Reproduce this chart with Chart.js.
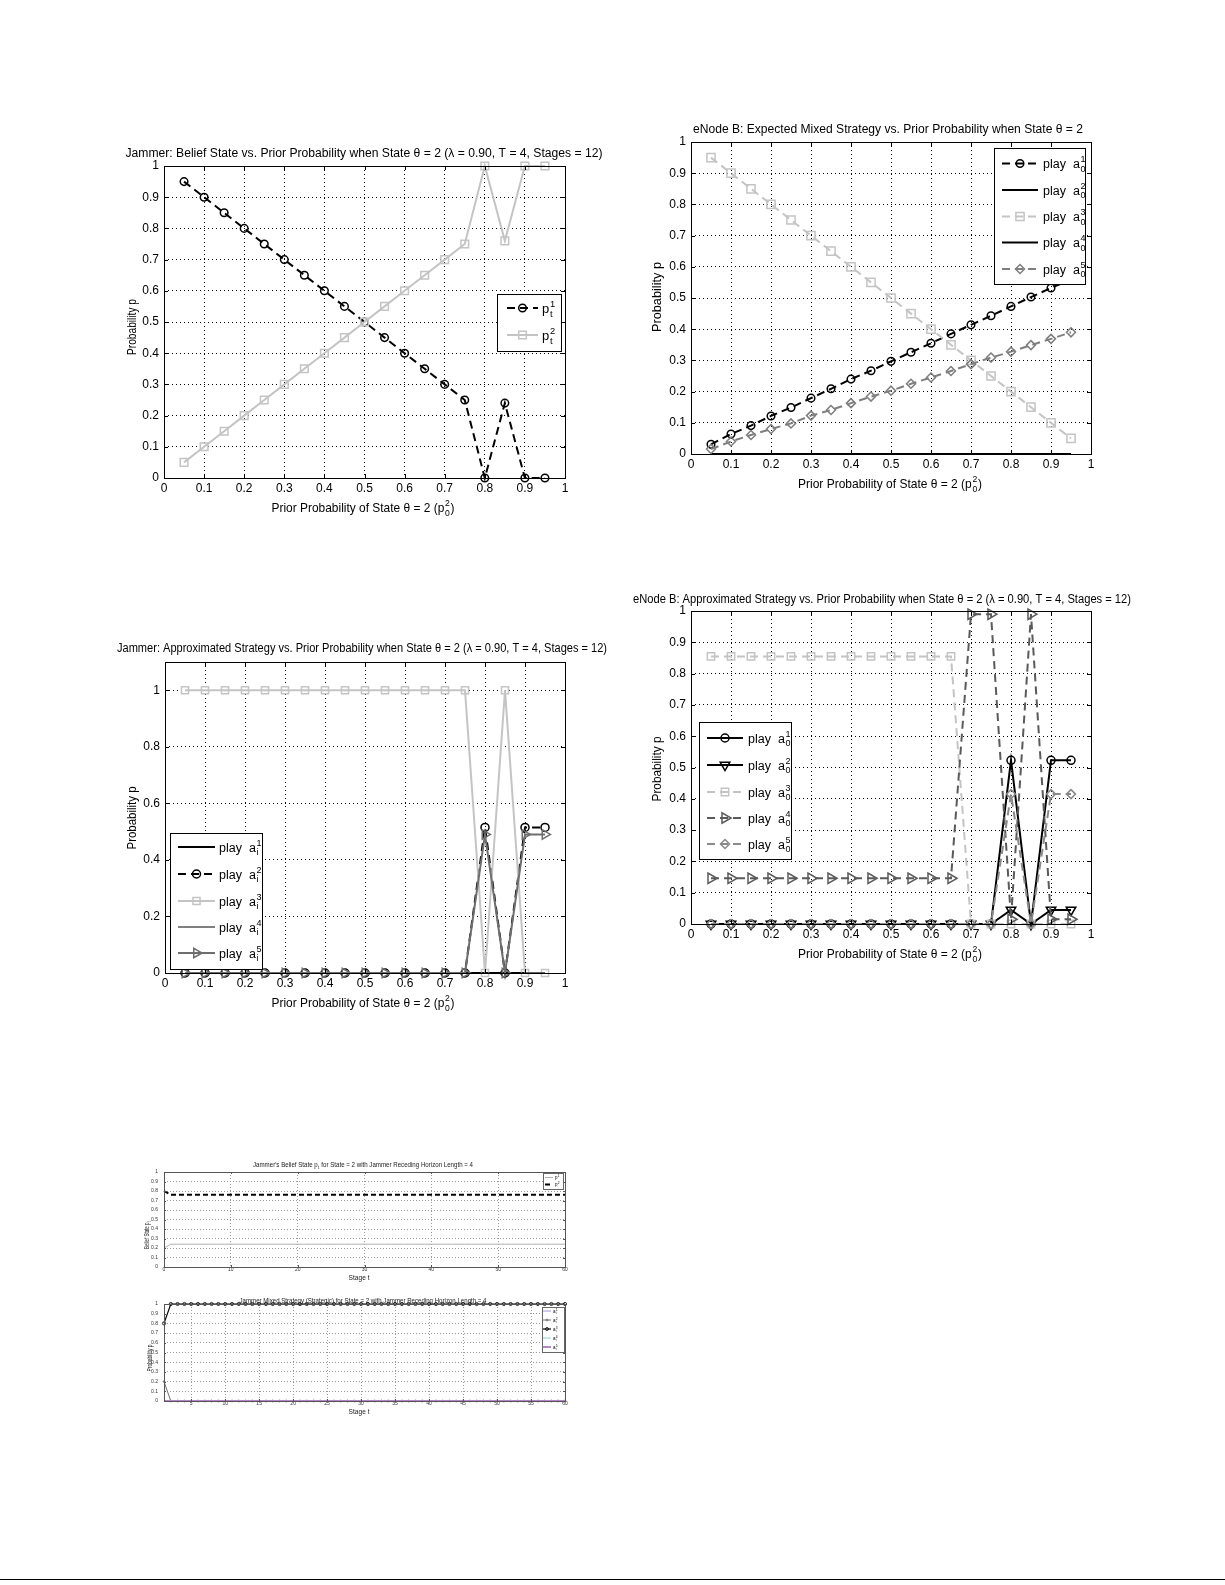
<!DOCTYPE html>
<html><head><meta charset="utf-8">
<script src="https://cdn.jsdelivr.net/npm/chart.js@4.4.0/dist/chart.umd.min.js"></script>
<style>
html,body{margin:0;padding:0;background:#fff;}
#page{position:relative;width:1225px;height:1585px;background:#fff;overflow:hidden;}
#page canvas{position:absolute;}
#rule{position:absolute;left:0;top:1579px;width:1225px;height:1px;background:#000;}
</style></head>
<body><div id="page"><div id="rule"></div></div>
<script>
// ---------------- DATA ----------------
const priorX = [0.05,0.1,0.15,0.2,0.25,0.3,0.35,0.4,0.45,0.5,0.55,0.6,0.65,0.7,0.75,0.8,0.85,0.9,0.95];
const priorTicks = [0,0.1,0.2,0.3,0.4,0.5,0.6,0.7,0.8,0.9,1];
const probTicks = [0,0.1,0.2,0.3,0.4,0.5,0.6,0.7,0.8,0.9,1];
const probTicks02 = [0,0.2,0.4,0.6,0.8,1];

// Jammer: belief state
const belief_p1 = [0.95,0.9,0.85,0.8,0.75,0.7,0.65,0.6,0.55,0.5,0.45,0.4,0.35,0.3,0.25,0,0.24,0,0];
const belief_p2 = [0.05,0.1,0.15,0.2,0.25,0.3,0.35,0.4,0.45,0.5,0.55,0.6,0.65,0.7,0.75,1,0.76,1,1];

// eNode B: expected mixed strategy
const enbMixed_a1 = [0.031,0.064,0.091,0.122,0.149,0.179,0.209,0.240,0.267,0.297,0.326,0.355,0.385,0.414,0.443,0.473,0.503,0.532,0.56];
const enbMixed_a2 = [0,0,0,0,0,0,0,0,0,0,0,0,0,0,0,0,0,0,0];
const enbMixed_a3 = [0.95,0.9,0.85,0.8,0.75,0.7,0.65,0.6,0.55,0.5,0.45,0.4,0.35,0.3,0.25,0.2,0.15,0.1,0.05];
const enbMixed_a4 = [0,0,0,0,0,0,0,0,0,0,0,0,0,0,0,0,0,0,0];
const enbMixed_a5 = [0.016,0.040,0.061,0.080,0.098,0.123,0.141,0.163,0.184,0.203,0.225,0.245,0.266,0.288,0.309,0.328,0.349,0.369,0.390];

// Jammer: approximated strategy
const jamApprox_a1 = [0,0,0,0,0,0,0,0,0,0,0,0,0,0,0,0,0,0,0];
const jamApprox_a2 = [0,0,0,0,0,0,0,0,0,0,0,0,0,0,0,0.515,0,0.515,0.515];
const jamApprox_a3 = [1,1,1,1,1,1,1,1,1,1,1,1,1,1,1,0,1,0,0];
const jamApprox_a4 = [0,0,0,0,0,0,0,0,0,0,0,0,0,0,0,0,0,0,0];
const jamApprox_a5 = [0,0,0,0,0,0,0,0,0,0,0,0,0,0,0,0.49,0,0.49,0.49];

// eNode B: approximated strategy
const enbApprox_a1 = [0,0,0,0,0,0,0,0,0,0,0,0,0,0,0,0.523,0,0.523,0.523];
const enbApprox_a2 = [0,0,0,0,0,0,0,0,0,0,0,0,0,0,0,0.045,0,0.045,0.045];
const enbApprox_a3 = [0.855,0.855,0.855,0.855,0.855,0.855,0.855,0.855,0.855,0.855,0.855,0.855,0.855,0,0,0,0,0,0];
const enbApprox_a4 = [0.146,0.146,0.146,0.146,0.146,0.146,0.146,0.146,0.146,0.146,0.146,0.146,0.146,0.99,0.99,0.015,0.99,0.015,0.015];
const enbApprox_a5 = [0,0,0,0,0,0,0,0,0,0,0,0,0,0,0,0.415,0,0.415,0.415];

// Jammer belief state over stages
const stageX5 = [0,1,2,3,4,5,6,7,8,9,10,11,12,13,14,15,16,17,18,19,20,21,22,23,24,25,26,27,28,29,30,31,32,33,34,35,36,37,38,39,40,41,42,43,44,45,46,47,48,49,50,51,52,53,54,55,56,57,58,59,60];
const stageTicks5 = [0,10,20,30,40,50,60];
const stageBelief_p1 = [0.2,0.24,0.24,0.24,0.24,0.24,0.24,0.24,0.24,0.24,0.24,0.24,0.24,0.24,0.24,0.24,0.24,0.24,0.24,0.24,0.24,0.24,0.24,0.24,0.24,0.24,0.24,0.24,0.24,0.24,0.24,0.24,0.24,0.24,0.24,0.24,0.24,0.24,0.24,0.24,0.24,0.24,0.24,0.24,0.24,0.24,0.24,0.24,0.24,0.24,0.24,0.24,0.24,0.24,0.24,0.24,0.24,0.24,0.24,0.24,0.24];
const stageBelief_p2 = [0.8,0.76,0.76,0.76,0.76,0.76,0.76,0.76,0.76,0.76,0.76,0.76,0.76,0.76,0.76,0.76,0.76,0.76,0.76,0.76,0.76,0.76,0.76,0.76,0.76,0.76,0.76,0.76,0.76,0.76,0.76,0.76,0.76,0.76,0.76,0.76,0.76,0.76,0.76,0.76,0.76,0.76,0.76,0.76,0.76,0.76,0.76,0.76,0.76,0.76,0.76,0.76,0.76,0.76,0.76,0.76,0.76,0.76,0.76,0.76,0.76];

// Jammer mixed strategy over stages
const stageX6 = [1,2,3,4,5,6,7,8,9,10,11,12,13,14,15,16,17,18,19,20,21,22,23,24,25,26,27,28,29,30,31,32,33,34,35,36,37,38,39,40,41,42,43,44,45,46,47,48,49,50,51,52,53,54,55,56,57,58,59,60];
const stageTicks6 = [5,10,15,20,25,30,35,40,45,50,55,60];
const stageMix_a1 = [0,0,0,0,0,0,0,0,0,0,0,0,0,0,0,0,0,0,0,0,0,0,0,0,0,0,0,0,0,0,0,0,0,0,0,0,0,0,0,0,0,0,0,0,0,0,0,0,0,0,0,0,0,0,0,0,0,0,0,0];
const stageMix_a2 = [0.2,0,0,0,0,0,0,0,0,0,0,0,0,0,0,0,0,0,0,0,0,0,0,0,0,0,0,0,0,0,0,0,0,0,0,0,0,0,0,0,0,0,0,0,0,0,0,0,0,0,0,0,0,0,0,0,0,0,0,0];
const stageMix_a3 = [0.8,1,1,1,1,1,1,1,1,1,1,1,1,1,1,1,1,1,1,1,1,1,1,1,1,1,1,1,1,1,1,1,1,1,1,1,1,1,1,1,1,1,1,1,1,1,1,1,1,1,1,1,1,1,1,1,1,1,1,1];
const stageMix_a4 = [0,0,0,0,0,0,0,0,0,0,0,0,0,0,0,0,0,0,0,0,0,0,0,0,0,0,0,0,0,0,0,0,0,0,0,0,0,0,0,0,0,0,0,0,0,0,0,0,0,0,0,0,0,0,0,0,0,0,0,0];
const stageMix_a5 = [0,0,0,0,0,0,0,0,0,0,0,0,0,0,0,0,0,0,0,0,0,0,0,0,0,0,0,0,0,0,0,0,0,0,0,0,0,0,0,0,0,0,0,0,0,0,0,0,0,0,0,0,0,0,0,0,0,0,0,0];

// ---------------- RENDERING ----------------
const FAM = '"Liberation Sans", Arial, Helvetica, sans-serif';
const page = document.getElementById('page');
const specs = new Map();
const LIGHT = '#c4c4c4', MID = '#8a8a8a', DARK = '#5a5a5a';

function measureRich(ctx, parts, size) {
  let w = 0;
  for (const p of parts) {
    if (typeof p === 'string') { ctx.font = size + 'px ' + FAM; w += ctx.measureText(p).width; }
    else {
      ctx.font = (size * 0.72) + 'px ' + FAM;
      w += Math.max(p.sup ? ctx.measureText(p.sup).width : 0, p.sub ? ctx.measureText(p.sub).width : 0) + size * 0.12;
    }
  }
  return w;
}
function drawRich(ctx, parts, x, ymid, size) {
  const base = ymid + size * 0.36;
  ctx.textBaseline = 'alphabetic'; ctx.textAlign = 'left';
  for (const p of parts) {
    if (typeof p === 'string') {
      ctx.font = size + 'px ' + FAM; ctx.fillText(p, x, base); x += ctx.measureText(p).width;
    } else {
      ctx.font = (size * 0.72) + 'px ' + FAM;
      const x0 = x + size * 0.06;
      let w = 0;
      if (p.sup) { ctx.fillText(p.sup, x0, base - size * 0.45); w = Math.max(w, ctx.measureText(p.sup).width); }
      if (p.sub) { ctx.fillText(p.sub, x0, base + size * 0.3); w = Math.max(w, ctx.measureText(p.sub).width); }
      x += w + size * 0.12;
    }
  }
}
function drawFit(ctx, t, ox, oy, rot) {
  const nat = measureRich(ctx, t.parts, t.size);
  const f = t.w ? t.w / nat : 1;
  ctx.save();
  ctx.fillStyle = t.color || '#000';
  ctx.translate(t.cx - ox, t.cy - oy);
  if (rot) ctx.rotate(-Math.PI / 2);
  ctx.scale(f, 1);
  drawRich(ctx, t.parts, -nat / 2, 0, t.size);
  ctx.restore();
}
function marker(ctx, style, r, rot, x, y) {
  ctx.save(); ctx.translate(x, y); ctx.rotate((rot || 0) * Math.PI / 180); ctx.beginPath();
  if (style === 'circle') ctx.arc(0, 0, r, 0, 2 * Math.PI);
  else if (style === 'rect') { const s = r * Math.SQRT1_2; ctx.rect(-s, -s, 2 * s, 2 * s); }
  else if (style === 'rectRot') { ctx.moveTo(0, -r); ctx.lineTo(r, 0); ctx.lineTo(0, r); ctx.lineTo(-r, 0); ctx.closePath(); }
  else if (style === 'triangle') {
    for (let k = 0; k < 3; k++) { const a = -Math.PI / 2 + k * 2 * Math.PI / 3; const px = Math.cos(a) * r, py = Math.sin(a) * r; if (k === 0) ctx.moveTo(px, py); else ctx.lineTo(px, py); }
    ctx.closePath();
  } else if (style === 'cross') { ctx.moveTo(-r, 0); ctx.lineTo(r, 0); ctx.moveTo(0, -r); ctx.lineTo(0, r); }
  ctx.stroke(); ctx.restore();
}

const deco = {
  id: 'deco',
  afterDatasetsDraw(chart) {
    const s = specs.get(chart.canvas); if (!s) return;
    const ctx = chart.ctx, ca = chart.chartArea;
    ctx.save();
    ctx.strokeStyle = s.frameColor || '#000'; ctx.lineWidth = 1; ctx.setLineDash([]);
    const L = Math.round(ca.left), T = Math.round(ca.top), R = Math.round(ca.right), B = Math.round(ca.bottom);
    ctx.strokeRect(L + 0.5, T + 0.5, R - L, B - T);
    const tl = s.tickLen || 4;
    ctx.beginPath();
    for (const v of s.xTicks) {
      const px = Math.round(chart.scales.x.getPixelForValue(v)) + 0.5;
      ctx.moveTo(px, B); ctx.lineTo(px, B - tl); ctx.moveTo(px, T); ctx.lineTo(px, T + tl);
    }
    for (const v of s.yTicks) {
      const py = Math.round(chart.scales.y.getPixelForValue(v)) + 0.5;
      ctx.moveTo(L, py); ctx.lineTo(L + tl, py); ctx.moveTo(R, py); ctx.lineTo(R - tl, py);
    }
    ctx.stroke();
    ctx.restore();
  },
  afterDraw(chart) {
    const s = specs.get(chart.canvas); if (!s) return;
    const ctx = chart.ctx, ox = s.ox, oy = s.oy;
    if (s.title) drawFit(ctx, s.title, ox, oy, false);
    if (s.xlab) drawFit(ctx, s.xlab, ox, oy, false);
    if (s.ylab) drawFit(ctx, s.ylab, ox, oy, true);
    const lg = s.legend;
    if (lg) {
      ctx.save();
      const bx = lg.box;
      ctx.fillStyle = '#fff'; ctx.fillRect(bx[0] - ox, bx[1] - oy, bx[2] - bx[0], bx[3] - bx[1]);
      ctx.strokeStyle = lg.boxColor || '#000'; ctx.lineWidth = 1;
      ctx.strokeRect(bx[0] - ox + 0.5, bx[1] - oy + 0.5, bx[2] - bx[0], bx[3] - bx[1]);
      s.series.forEach((o, i) => {
        const y = lg.items[i] - oy;
        ctx.strokeStyle = o.color; ctx.lineWidth = o.width; ctx.setLineDash(o.dash || []);
        ctx.beginPath(); ctx.moveTo(lg.line[0] - ox, y); ctx.lineTo(lg.line[1] - ox, y); ctx.stroke();
        ctx.setLineDash([]);
        if (o.point) {
          ctx.lineWidth = o.pbw || 1.5; ctx.strokeStyle = o.color;
          marker(ctx, o.point, lg.mr || o.radius, o.rot, (lg.line[0] + lg.line[1]) / 2 - ox, y);
        }
        ctx.fillStyle = '#000';
        drawRich(ctx, lg.labels[i], lg.textX - ox, y, lg.size);
      });
      ctx.restore();
    }
  }
};

function makeChart(s) {
  const padL = 70, padT = 45, padR = 60, padB = 55;
  const b = s.box;
  const W = b.r - b.l + padL + padR, H = b.b - b.t + padT + padB;
  const cv = document.createElement('canvas');
  cv.width = W; cv.height = H;
  cv.style.left = (b.l - padL) + 'px'; cv.style.top = (b.t - padT) + 'px';
  cv.style.width = W + 'px'; cv.style.height = H + 'px';
  page.appendChild(cv);
  s.ox = b.l - padL; s.oy = b.t - padT;
  specs.set(cv, s);
  const n = s.series.length;
  const datasets = s.series.map((o, i) => ({
    data: o.xs.map((x, k) => ({ x: x, y: o.ys[k] })),
    borderColor: o.color, backgroundColor: 'rgba(0,0,0,0)',
    borderWidth: o.width, borderDash: o.dash || [],
    pointStyle: o.point || 'circle', pointRadius: o.point ? o.radius : 0,
    pointRotation: o.rot || 0, pointBorderColor: o.color,
    pointBackgroundColor: 'rgba(0,0,0,0)', pointBorderWidth: o.pbw || 1.5,
    pointHoverRadius: 0, tension: 0, fill: false, clip: false,
    order: n - i
  }));
  const fmt = v => String(+(+v).toFixed(2));
  const tickFont = { family: FAM, size: s.tickSize };
  new Chart(cv, {
    type: 'line',
    data: { datasets },
    options: {
      responsive: false, animation: false, devicePixelRatio: 1,
      events: [],
      layout: { padding: { left: 0, top: padT, right: padR, bottom: 0 } },
      plugins: { legend: { display: false }, tooltip: { enabled: false }, title: { display: false } },
      scales: {
        x: {
          type: 'linear', min: s.xMin, max: s.xMax,
          afterBuildTicks: sc => { sc.ticks = s.xTicks.map(v => ({ value: v })); },
          afterFit: sc => { sc.height = padB; },
          ticks: { font: tickFont, color: s.tickColor || '#000', padding: s.padX, maxRotation: 0, autoSkip: false, callback: fmt },
          grid: { color: s.gridColor, lineWidth: 1, drawTicks: false },
          border: { display: false, dash: s.gridDash }
        },
        y: {
          type: 'linear', min: s.yMin, max: s.yMax,
          afterBuildTicks: sc => { sc.ticks = s.yTicks.map(v => ({ value: v })); },
          afterFit: sc => { sc.width = padL; },
          ticks: { font: tickFont, color: s.tickColor || '#000', padding: s.padY, autoSkip: false, callback: fmt },
          grid: { color: s.gridColor, lineWidth: 1, drawTicks: false },
          border: { display: false, dash: s.gridDash }
        }
      }
    },
    plugins: [deco]
  });
}

const xPrior = { parts: ['Prior Probability of State \u03B8 = 2 (p', { sup: '2', sub: '0' }, ')'], size: 13, w: 184 };
function lab(base, cx, cy, extra) { return Object.assign({}, base, { cx, cy }, extra || {}); }
const playA = (k, s) => ['play  a', { sup: String(k), sub: s }];

// Chart 1: Jammer belief state
makeChart({
  box: { l: 164, t: 166, r: 565, b: 478 },
  xMin: 0, xMax: 1, yMin: 0, yMax: 1, xTicks: priorTicks, yTicks: probTicks,
  tickSize: 12, padX: 3, padY: 5, gridColor: '#000', gridDash: [1, 3], tickLen: 4,
  title: { parts: ['Jammer: Belief State vs. Prior Probability when State \u03B8 = 2 (\u03BB = 0.90, T = 4, Stages = 12)'], size: 12, w: 477, cx: 364, cy: 152.5 },
  xlab: lab(xPrior, 363, 507, { w: 183 }),
  ylab: { parts: ['Probability p'], size: 12, w: 56, cx: 132, cy: 327 },
  series: [
    { xs: priorX, ys: belief_p1, color: '#000', width: 2, dash: [8, 5], point: 'circle', radius: 3.8 },
    { xs: priorX, ys: belief_p2, color: LIGHT, width: 2, point: 'rect', radius: 5.4 }
  ],
  legend: { box: [497, 294, 561, 351], items: [308, 335], line: [507, 538], textX: 542, size: 13,
    labels: [['p', { sup: '1', sub: 't' }], ['p', { sup: '2', sub: 't' }]] }
});

// Chart 2: eNode B expected mixed strategy
makeChart({
  box: { l: 691, t: 142, r: 1091, b: 454 },
  xMin: 0, xMax: 1, yMin: 0, yMax: 1, xTicks: priorTicks, yTicks: probTicks,
  tickSize: 12, padX: 3, padY: 5, gridColor: '#000', gridDash: [1, 3], tickLen: 4,
  title: { parts: ['eNode B: Expected Mixed Strategy vs. Prior Probability when State \u03B8 = 2'], size: 12, w: 390, cx: 888, cy: 128.5 },
  xlab: lab(xPrior, 890, 483),
  ylab: { parts: ['Probability p'], size: 12, w: 70, cx: 657, cy: 297 },
  series: [
    { xs: priorX, ys: enbMixed_a1, color: '#000', width: 2, dash: [8, 5], point: 'circle', radius: 3.8 },
    { xs: priorX, ys: enbMixed_a2, color: '#000', width: 2 },
    { xs: priorX, ys: enbMixed_a3, color: LIGHT, width: 2, dash: [8, 5], point: 'rect', radius: 5.8 },
    { xs: priorX, ys: enbMixed_a4, color: '#000', width: 2 },
    { xs: priorX, ys: enbMixed_a5, color: '#7e7e7e', width: 2, dash: [8, 5], point: 'rectRot', radius: 4.5 }
  ],
  legend: { box: [994, 148, 1085, 284], items: [163.5, 190, 216.5, 242.5, 269], line: [1002, 1038], textX: 1043, size: 12.5,
    labels: [playA(1, '0'), playA(2, '0'), playA(3, '0'), playA(4, '0'), playA(5, '0')] }
});

// Chart 3: Jammer approximated strategy
makeChart({
  box: { l: 165, t: 662, r: 565, b: 973 },
  xMin: 0, xMax: 1, yMin: 0, yMax: 1.1, xTicks: priorTicks, yTicks: probTicks02,
  tickSize: 12, padX: 3, padY: 5, gridColor: '#000', gridDash: [1, 3], tickLen: 4,
  title: { parts: ['Jammer: Approximated Strategy vs. Prior Probability when State \u03B8 = 2 (\u03BB = 0.90, T = 4, Stages = 12)'], size: 12, w: 490, cx: 362, cy: 647.5 },
  xlab: lab(xPrior, 363, 1002, { w: 183 }),
  ylab: { parts: ['Probability p'], size: 12, w: 63, cx: 132, cy: 818 },
  series: [
    { xs: priorX, ys: jamApprox_a1, color: '#000', width: 2 },
    { xs: priorX, ys: jamApprox_a2, color: '#000', width: 2, dash: [8, 5], point: 'circle', radius: 4 },
    { xs: priorX, ys: jamApprox_a3, color: LIGHT, width: 2, point: 'rect', radius: 5 },
    { xs: priorX, ys: jamApprox_a4, color: '#000', width: 1 },
    { xs: priorX, ys: jamApprox_a5, color: '#6e6e6e', width: 2, point: 'triangle', rot: 90, radius: 5.5 }
  ],
  legend: { box: [170, 833, 262, 969], items: [847, 874, 901, 927, 953], line: [178, 215], textX: 219, size: 12.5,
    labels: [playA(1, 'i'), playA(2, 'i'), playA(3, 'i'), playA(4, 'i'), playA(5, 'i')] }
});

// Chart 4: eNode B approximated strategy
makeChart({
  box: { l: 691, t: 611, r: 1091, b: 924 },
  xMin: 0, xMax: 1, yMin: 0, yMax: 1, xTicks: priorTicks, yTicks: probTicks,
  tickSize: 12, padX: 3, padY: 5, gridColor: '#000', gridDash: [1, 3], tickLen: 4,
  title: { parts: ['eNode B: Approximated Strategy vs. Prior Probability when State \u03B8 = 2 (\u03BB = 0.90, T = 4, Stages = 12)'], size: 12, w: 498, cx: 882, cy: 598.5 },
  xlab: lab(xPrior, 890, 953),
  ylab: { parts: ['Probability p'], size: 12, w: 65, cx: 657, cy: 769 },
  series: [
    { xs: priorX, ys: enbApprox_a1, color: '#000', width: 2, point: 'circle', radius: 4 },
    { xs: priorX, ys: enbApprox_a2, color: '#000', width: 2, point: 'triangle', rot: 180, radius: 5.5 },
    { xs: priorX, ys: enbApprox_a3, color: LIGHT, width: 2, dash: [8, 5], point: 'rect', radius: 5.2 },
    { xs: priorX, ys: enbApprox_a4, color: DARK, width: 2, dash: [8, 5], point: 'triangle', rot: 90, radius: 6 },
    { xs: priorX, ys: enbApprox_a5, color: MID, width: 2, dash: [8, 5], point: 'rectRot', radius: 4.5 }
  ],
  legend: { box: [699, 722, 791, 859], items: [738, 765, 792, 818, 844], line: [707, 743], textX: 748, size: 12.5,
    labels: [playA(1, '0'), playA(2, '0'), playA(3, '0'), playA(4, '0'), playA(5, '0')] }
});

// Chart 5: Jammer belief state over stages
makeChart({
  box: { l: 164, t: 1172, r: 565, b: 1267 },
  xMin: 0, xMax: 60, yMin: 0, yMax: 1, xTicks: stageTicks5, yTicks: probTicks,
  tickSize: 5, padX: 0, padY: 6, gridColor: '#9a9a9a', gridDash: [1, 2], tickLen: 2, tickColor: '#333', frameColor: '#555',
  title: { parts: ["Jammer's Belief State p", { sub: 't' }, ' for State = 2 with Jammer Receding Horizon Length = 4'], size: 7, w: 220, cx: 363, cy: 1164, color: '#222' },
  xlab: { parts: ['Stage t'], size: 7, w: 21, cx: 359, cy: 1277, color: '#222' },
  ylab: { parts: ['Belief State p', { sub: 't' }], size: 6.5, w: 28, cx: 147, cy: 1235, color: '#222' },
  series: [
    { xs: stageX5, ys: stageBelief_p1, color: '#b0b0b0', width: 1 },
    { xs: stageX5, ys: stageBelief_p2, color: '#000', width: 2, dash: [5, 3] }
  ],
  legend: { box: [543, 1173, 563, 1189], items: [1177.5, 1184.5], line: [545, 553], textX: 555, size: 4.5, boxColor: '#666',
    labels: [['p', { sup: '1' }], ['p', { sup: '2' }]] }
});

// Chart 6: Jammer mixed strategy over stages
makeChart({
  box: { l: 164, t: 1304, r: 565, b: 1401 },
  xMin: 1, xMax: 60, yMin: 0, yMax: 1, xTicks: stageTicks6, yTicks: probTicks,
  tickSize: 5, padX: 0, padY: 6, gridColor: '#9a9a9a', gridDash: [1, 2], tickLen: 2, tickColor: '#333', frameColor: '#555',
  title: { parts: ['Jammer Mixed Strategy (Strategic) for State = 2 with Jammer Receding Horizon Length = 4'], size: 7, w: 247, cx: 363, cy: 1300, color: '#222' },
  xlab: { parts: ['Stage t'], size: 7, w: 21, cx: 359, cy: 1411, color: '#222' },
  ylab: { parts: ['Probability p'], size: 6.5, w: 27, cx: 150, cy: 1358, color: '#222' },
  series: [
    { xs: stageX6, ys: stageMix_a1, color: '#9a94d6', width: 1 },
    { xs: stageX6, ys: stageMix_a2, color: '#707070', width: 1, point: 'cross', radius: 1.5, pbw: 0.8 },
    { xs: stageX6, ys: stageMix_a3, color: '#000', width: 1.2, point: 'circle', radius: 1.6, pbw: 0.8 },
    { xs: stageX6, ys: stageMix_a4, color: '#8fd4c4', width: 1 },
    { xs: stageX6, ys: stageMix_a5, color: '#b486c6', width: 2 }
  ],
  legend: { box: [542, 1307, 564, 1352], items: [1311, 1320, 1329, 1338, 1347], line: [543, 551], textX: 553, size: 4.5, boxColor: '#666', mr: 1.5,
    labels: [['a', { sup: '1', sub: 'i' }], ['a', { sup: '2', sub: 'i' }], ['a', { sup: '3', sub: 'i' }], ['a', { sup: '4', sub: 'i' }], ['a', { sup: '5', sub: 'i' }]] }
});
</script>
</body></html>
